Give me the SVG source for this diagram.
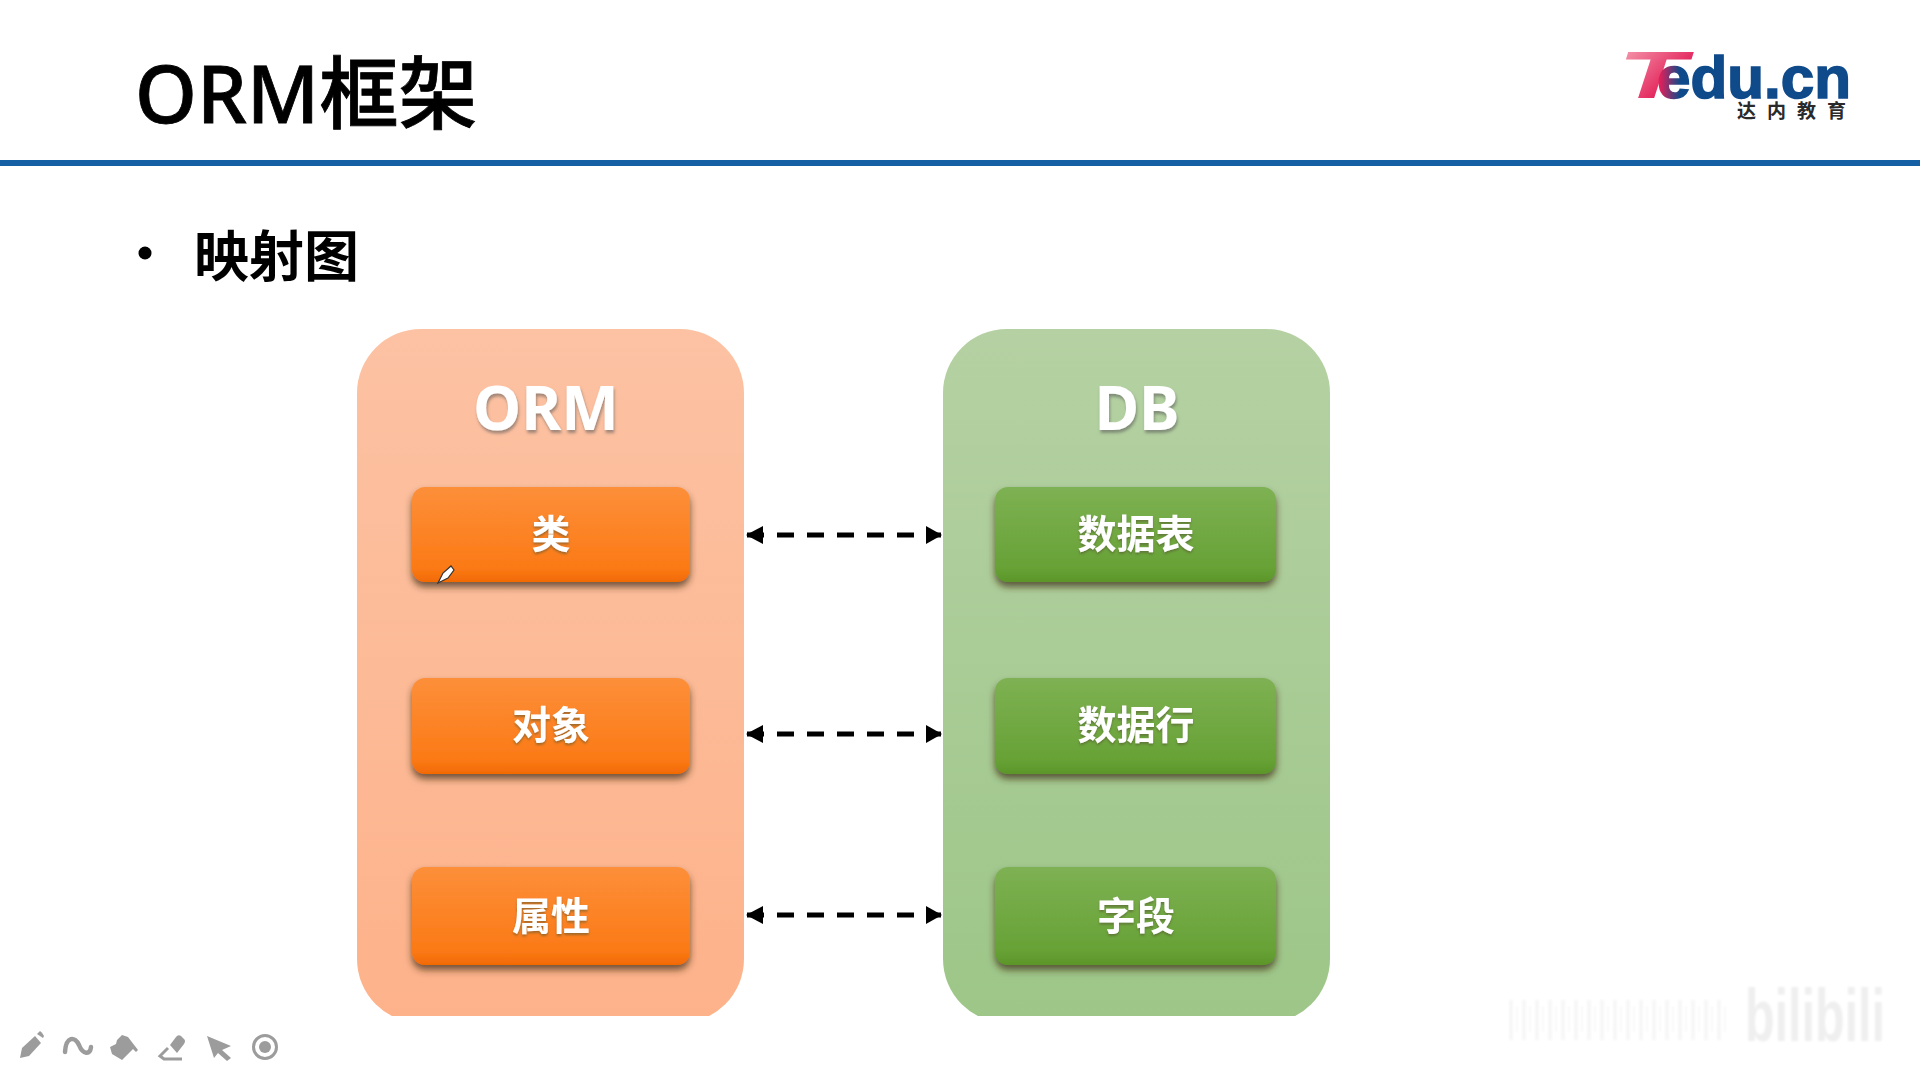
<svg xmlns="http://www.w3.org/2000/svg" width="1920" height="1080" viewBox="0 0 1920 1080">
<style>
text{font-family:"Noto Sans","Noto Sans CJK SC","Liberation Sans",sans-serif}
.cn{font-family:"Noto Sans CJK SC","Noto Sans",sans-serif}
.la{font-family:"Liberation Sans",sans-serif}
.head{font-size:61px;font-weight:700;fill:#fff;text-anchor:middle;filter:url(#ts)}
.lab{font-size:39px;font-weight:700;fill:#fff;text-anchor:middle;filter:url(#ts2)}
.btnO{fill:url(#gO);filter:url(#bs)}
.btnG{fill:url(#gG);filter:url(#bs)}
.conn{stroke:#000;stroke-width:5;stroke-dasharray:17 13;fill:none;marker-start:url(#aL);marker-end:url(#aR)}
.ic{fill:#9c9c9c}
</style>
<defs>
<linearGradient id="pO" x1="0" y1="0" x2="0" y2="1"><stop offset="0" stop-color="#fcc2a3"/><stop offset="1" stop-color="#fdb28a"/></linearGradient>
<linearGradient id="pG" x1="0" y1="0" x2="0" y2="1"><stop offset="0" stop-color="#b5d1a3"/><stop offset="1" stop-color="#9dc688"/></linearGradient>
<linearGradient id="gO" x1="0" y1="0" x2="0" y2="1"><stop offset="0" stop-color="#fd8f3a"/><stop offset=".85" stop-color="#fb7a16"/><stop offset="1" stop-color="#f26a04"/></linearGradient>
<linearGradient id="gG" x1="0" y1="0" x2="0" y2="1"><stop offset="0" stop-color="#7eb153"/><stop offset=".85" stop-color="#67a236"/><stop offset="1" stop-color="#5c9629"/></linearGradient>
<linearGradient id="tG" x1="0" y1="0" x2="1" y2="1"><stop offset="0" stop-color="#f8b0bc"/><stop offset=".75" stop-color="#e0104e"/></linearGradient>
<linearGradient id="eG" gradientUnits="userSpaceOnUse" x1="1660" y1="0" x2="1680" y2="0"><stop offset="0" stop-color="#e0205a"/><stop offset="1" stop-color="#0f4a8a"/></linearGradient>
<filter id="bs" x="-10%" y="-15%" width="120%" height="135%"><feDropShadow dx="0" dy="5" stdDeviation="3.5" flood-color="#3a2a14" flood-opacity=".7"/></filter>
<filter id="ts" x="-10%" y="-10%" width="120%" height="130%"><feGaussianBlur in="SourceGraphic" stdDeviation=".7" result="b"/><feDropShadow in="b" dx="1" dy="3" stdDeviation="1.5" flood-color="#555" flood-opacity=".55"/></filter>
<filter id="ts2" x="-10%" y="-10%" width="120%" height="130%"><feGaussianBlur in="SourceGraphic" stdDeviation=".6" result="b"/><feDropShadow in="b" dx="0" dy="2" stdDeviation="1" flood-color="#553" flood-opacity=".55"/></filter>
<filter id="soft" x="-5%" y="-5%" width="110%" height="110%"><feGaussianBlur stdDeviation="1"/></filter>
<pattern id="streak" patternUnits="userSpaceOnUse" width="13" height="40"><rect x="1" width="4" height="40" fill="#f7f7f7"/><rect x="8" y="6" width="2" height="26" fill="#f9f9f9"/></pattern>
<marker id="aL" markerUnits="userSpaceOnUse" markerWidth="20" markerHeight="20" refX="1" refY="10" orient="auto"><path d="M0 10L17 1V19Z" fill="#000"/></marker>
<marker id="aR" markerUnits="userSpaceOnUse" markerWidth="20" markerHeight="20" refX="18" refY="10" orient="auto"><path d="M19 10L3 1V19Z" fill="#000"/></marker>
<clipPath id="clip"><rect x="0" y="0" width="1920" height="1016"/></clipPath>
</defs>
<rect width="1920" height="1080" fill="#fff"/>
<g id="title"><text x="135" y="123" font-size="79" font-weight="500" fill="#000" stroke="#000" stroke-width=".8">ORM<tspan class="cn">框架</tspan></text></g>
<rect id="rule" x="0" y="160" width="1920" height="6" fill="#1560a5"/>
<g id="logo">
<text x="1618" y="98" class="la" font-size="66" font-weight="700" font-style="italic" fill="url(#tG)" textLength="68" lengthAdjust="spacingAndGlyphs">T</text>
<text x="1657" y="98" class="la" font-size="60" font-weight="700" fill="#0f4a8a" stroke="#0f4a8a" stroke-width="1.6" textLength="194" lengthAdjust="spacingAndGlyphs"><tspan fill="url(#eG)" stroke="url(#eG)">e</tspan>du.cn</text>
<text x="1737" y="118" class="cn" font-size="19" font-weight="700" fill="#2a2a2a" letter-spacing="11">达内教育</text>
</g>
<g id="bullet"><circle cx="145" cy="253" r="6.5" fill="#000"/><text x="194" y="276" class="cn" font-size="55" font-weight="700" fill="#000">映射图</text></g>
<g id="orm" clip-path="url(#clip)">
<rect x="357" y="329" width="387" height="694" rx="64" fill="url(#pO)"/>
<text x="546" y="430" class="head">ORM</text>
</g>
<g id="db" clip-path="url(#clip)">
<rect x="943" y="329" width="387" height="694" rx="64" fill="url(#pG)"/>
<text x="1137" y="430" class="head">DB</text>
</g>
<g id="n-class"><rect class="btnO" x="412" y="487" width="278" height="95" rx="13"/><text x="551" y="548" class="lab cn">类</text></g>
<g id="n-object"><rect class="btnO" x="412" y="678" width="278" height="96" rx="13"/><text x="551" y="739" class="lab cn">对象</text></g>
<g id="n-attr"><rect class="btnO" x="412" y="867" width="278" height="98" rx="13"/><text x="551" y="930" class="lab cn">属性</text></g>
<g id="n-table"><rect class="btnG" x="995" y="487" width="281" height="95" rx="13"/><text x="1136" y="548" class="lab cn">数据表</text></g>
<g id="n-row"><rect class="btnG" x="995" y="678" width="281" height="96" rx="13"/><text x="1136" y="739" class="lab cn">数据行</text></g>
<g id="n-field"><rect class="btnG" x="995" y="867" width="281" height="98" rx="13"/><text x="1136" y="930" class="lab cn">字段</text></g>
<g id="connectors">
<path class="conn" d="M747 535H941"/>
<path class="conn" d="M747 734H941"/>
<path class="conn" d="M747 915H941"/>
</g>
<g id="cursor"><path d="M438 583L443 573L451 566L454 570L448 578Z" fill="#fff" stroke="#333" stroke-width="1.2"/></g>
<g id="toolbar">
<path class="ic" d="M20 1058L22 1048L35 1036L41 1043L29 1056Z"/><path class="ic" d="M37 1034L40 1031Q42 1032 44 1036L43 1038Z"/>
<path d="M65 1052C66 1036 75 1036 79 1045C83 1055 90 1055 91 1047" fill="none" stroke="#9c9c9c" stroke-width="4.5" stroke-linecap="round"/>
<path class="ic" d="M110 1047L116 1044L117 1040L122 1035L128 1037L138 1050L136 1052L133 1049L122 1060L112 1054Z"/>
<path class="ic" d="M170 1045L176 1037Q178 1034 181 1036L184 1039Q186 1041 184 1044L177 1053Z"/>
<path d="M168 1048L160 1056L164 1059H182" fill="none" stroke="#9c9c9c" stroke-width="3"/>
<path class="ic" d="M207 1036L231 1046L222 1050L231 1058L227 1061L218 1053L214 1058Z"/>
<circle cx="265" cy="1047" r="11.5" fill="none" stroke="#9c9c9c" stroke-width="3"/><circle cx="265" cy="1047" r="6" fill="#9c9c9c"/>
</g>
<g id="watermark" filter="url(#soft)">
<rect x="1508" y="1000" width="220" height="40" fill="url(#streak)"/>
<text x="1745" y="1041" class="la" font-size="74" font-weight="700" fill="#efefef" textLength="140" lengthAdjust="spacingAndGlyphs">bilibili</text>
</g>
</svg>
